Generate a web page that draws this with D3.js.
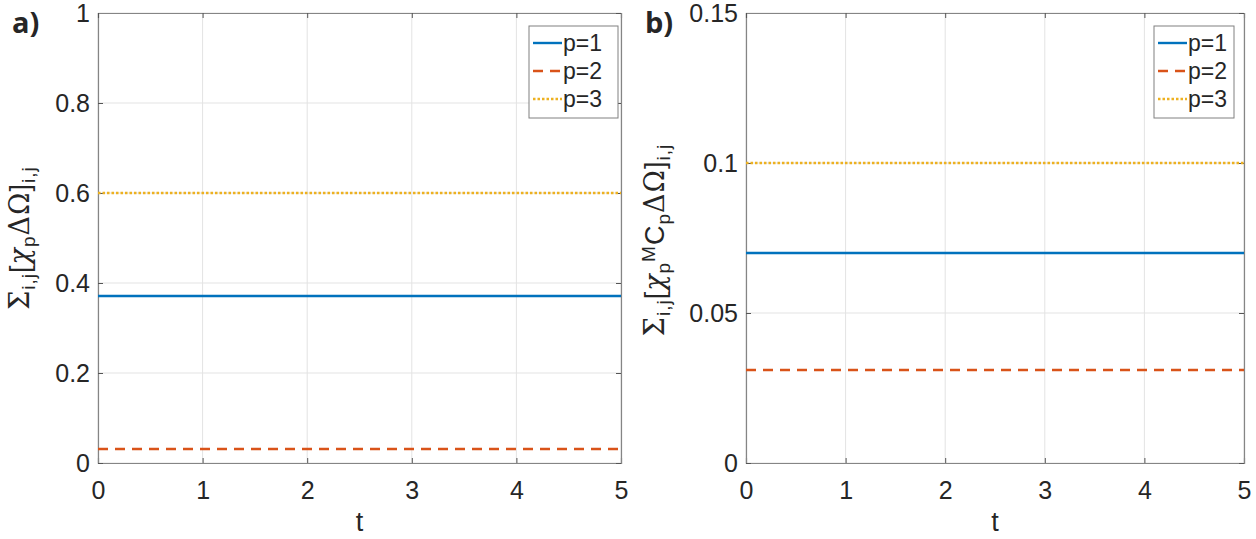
<!DOCTYPE html>
<html lang="en">
<head>
<meta charset="UTF-8">
<title>chi_p sums</title>
<style>
  body { margin: 0; background: #fff; }
  text { font-family: "Liberation Sans", Arial, sans-serif; fill: #262626; }
</style>
</head>
<body>
<script src="https://cdn.jsdelivr.net/npm/d3@7"></script>
<script>
// data
var tDomain = [0, 5];
var xTicks = [0, 1, 2, 3, 4, 5];
var seriesNames = ["p=1", "p=2", "p=3"];
var valuesA = [0.371, 0.031, 0.6];     // panel a), constant in t
var valuesB = [0.07, 0.031, 0.1];      // panel b), constant in t
var yTicksA = [0, 0.2, 0.4, 0.6, 0.8, 1];
var yTicksB = [0, 0.05, 0.1, 0.15];
var colors = ["#0072BD", "#D95319", "#EDB120"];
var dashes = [null, "10,7", "2.5,2"];

var W = 1256, H = 539;
var svg = d3.select("body").append("svg").attr("width", W).attr("height", H);

function drawPanel(opt) {
  var x = d3.scaleLinear().domain(tDomain).range([opt.left, opt.right]);
  var y = d3.scaleLinear().domain([0, opt.ymax]).range([opt.bottom, opt.top]);
  var g = svg.append("g");

  // grid
  g.selectAll(".gx").data(xTicks).enter().append("line")
    .attr("x1", d => x(d)).attr("x2", d => x(d))
    .attr("y1", opt.top).attr("y2", opt.bottom)
    .attr("stroke", "#e3e3e3").attr("stroke-width", 1);
  g.selectAll(".gy").data(opt.yTicks).enter().append("line")
    .attr("x1", opt.left).attr("x2", opt.right)
    .attr("y1", d => y(d)).attr("y2", d => y(d))
    .attr("stroke", "#e3e3e3").attr("stroke-width", 1);

  // axes (ticks pointing inward, labels only bottom/left)
  var ax = d3.axisBottom(x).tickValues(xTicks).tickSize(-5).tickFormat(d3.format("d"));
  var ay = d3.axisLeft(y).tickValues(opt.yTicks).tickSize(-5).tickPadding(8).tickFormat(opt.fmt);
  var axT = d3.axisTop(x).tickValues(xTicks).tickSize(-5).tickFormat("");
  var ayR = d3.axisRight(y).tickValues(opt.yTicks).tickSize(-5).tickFormat("");
  [[ax, "translate(0," + opt.bottom + ")"], [ay, "translate(" + opt.left + ",0)"],
   [axT, "translate(0," + opt.top + ")"], [ayR, "translate(" + opt.right + ",0)"]].forEach(function (a, k) {
    var ga = g.append("g").attr("transform", a[1]).call(a[0]);
    ga.select(".domain").attr("stroke", "#858585").attr("stroke-width", 1.2);
    ga.selectAll(".tick line").attr("stroke", "#555");
    ga.selectAll("text").style("font-size", "25px").attr("fill", "#262626");
    if (k === 0) ga.selectAll("text").attr("y", 36).attr("dy", 0);
  });

  // series: horizontal lines across the whole t range
  var line = d3.line().x(d => x(d[0])).y(d => y(d[1]));
  opt.values.forEach(function (v, i) {
    g.append("path").datum([[tDomain[0], v], [tDomain[1], v]])
      .attr("d", line).attr("fill", "none")
      .attr("stroke", colors[i]).attr("stroke-width", 2.4)
      .attr("stroke-dasharray", dashes[i]);
  });

  // legend
  var lg = g.append("g").attr("transform", "translate(" + opt.legX + "," + opt.legY + ")");
  lg.append("rect").attr("width", opt.legW).attr("height", 92)
    .attr("fill", "#fff").attr("stroke", "#808080").attr("stroke-width", 1);
  seriesNames.forEach(function (n, i) {
    var yy = 17 + i * 28;
    lg.append("line").attr("x1", 4).attr("x2", 33).attr("y1", yy).attr("y2", yy)
      .attr("stroke", colors[i]).attr("stroke-width", 2.4)
      .attr("stroke-dasharray", dashes[i]);
    lg.append("text").attr("x", 34).attr("y", yy + 8).text(n).style("font-size", "23px");
  });

  // x label
  g.append("text").attr("x", (opt.left + opt.right) / 2).attr("y", 531)
    .attr("text-anchor", "middle").style("font-size", "27px").text("t");

  // panel tag
  g.append("text").attr("x", opt.tagX).attr("y", 33)
    .style("font-family", "'Open Sans', 'Liberation Sans', sans-serif")
    .style("font-weight", "bold").style("font-size", "29px").attr("fill", "#000").text(opt.tag);

  // y label (TeX-like)
  var yl = g.append("text")
    .attr("transform", "translate(" + opt.ylX + "," + opt.ylY + ") rotate(-90)")
    .attr("text-anchor", "middle").style("font-size", "27px")
    .style("letter-spacing", "1px");
  opt.ylabel.forEach(function (p) {
    var ts = yl.append("tspan").text(p.t);
    if (p.serif) ts.style("font-family", "'DejaVu Serif', 'Liberation Serif', serif");
    if (p.it) ts.style("font-style", "italic");
    if (p.sub) ts.attr("baseline-shift", "-30%").style("font-size", "19px");
    if (p.sup) ts.attr("baseline-shift", "50%").style("font-size", "19px");
  });
}

drawPanel({
  left: 98, right: 621, top: 13, bottom: 463, ymax: 1,
  yTicks: yTicksA, fmt: d3.format("~g"), values: valuesA,
  legX: 529, legY: 26, legW: 89, tag: "a)", tagX: 12,
  ylX: 29, ylY: 238,
  ylabel: [
    { t: "\u03A3", serif: true }, { t: "i,j", sub: true }, { t: "[" },
    { t: "\u03C7", serif: true, it: true }, { t: "p", sub: true },
    { t: "\u0394\u03A9", serif: true }, { t: "]" }, { t: "i,j", sub: true }
  ]
});

drawPanel({
  left: 746, right: 1244, top: 13, bottom: 463, ymax: 0.15,
  yTicks: yTicksB, fmt: d3.format("~g"), values: valuesB,
  legX: 1154, legY: 26, legW: 80, tag: "b)", tagX: 645,
  ylX: 664, ylY: 240,
  ylabel: [
    { t: "\u03A3", serif: true }, { t: "i,j", sub: true }, { t: "[" },
    { t: "\u03C7", serif: true, it: true }, { t: "p", sub: true },
    { t: "M", sup: true }, { t: "C" }, { t: "p", sub: true },
    { t: "\u0394\u03A9", serif: true }, { t: "]" }, { t: "i,j", sub: true }
  ]
});
</script>
</body>
</html>
